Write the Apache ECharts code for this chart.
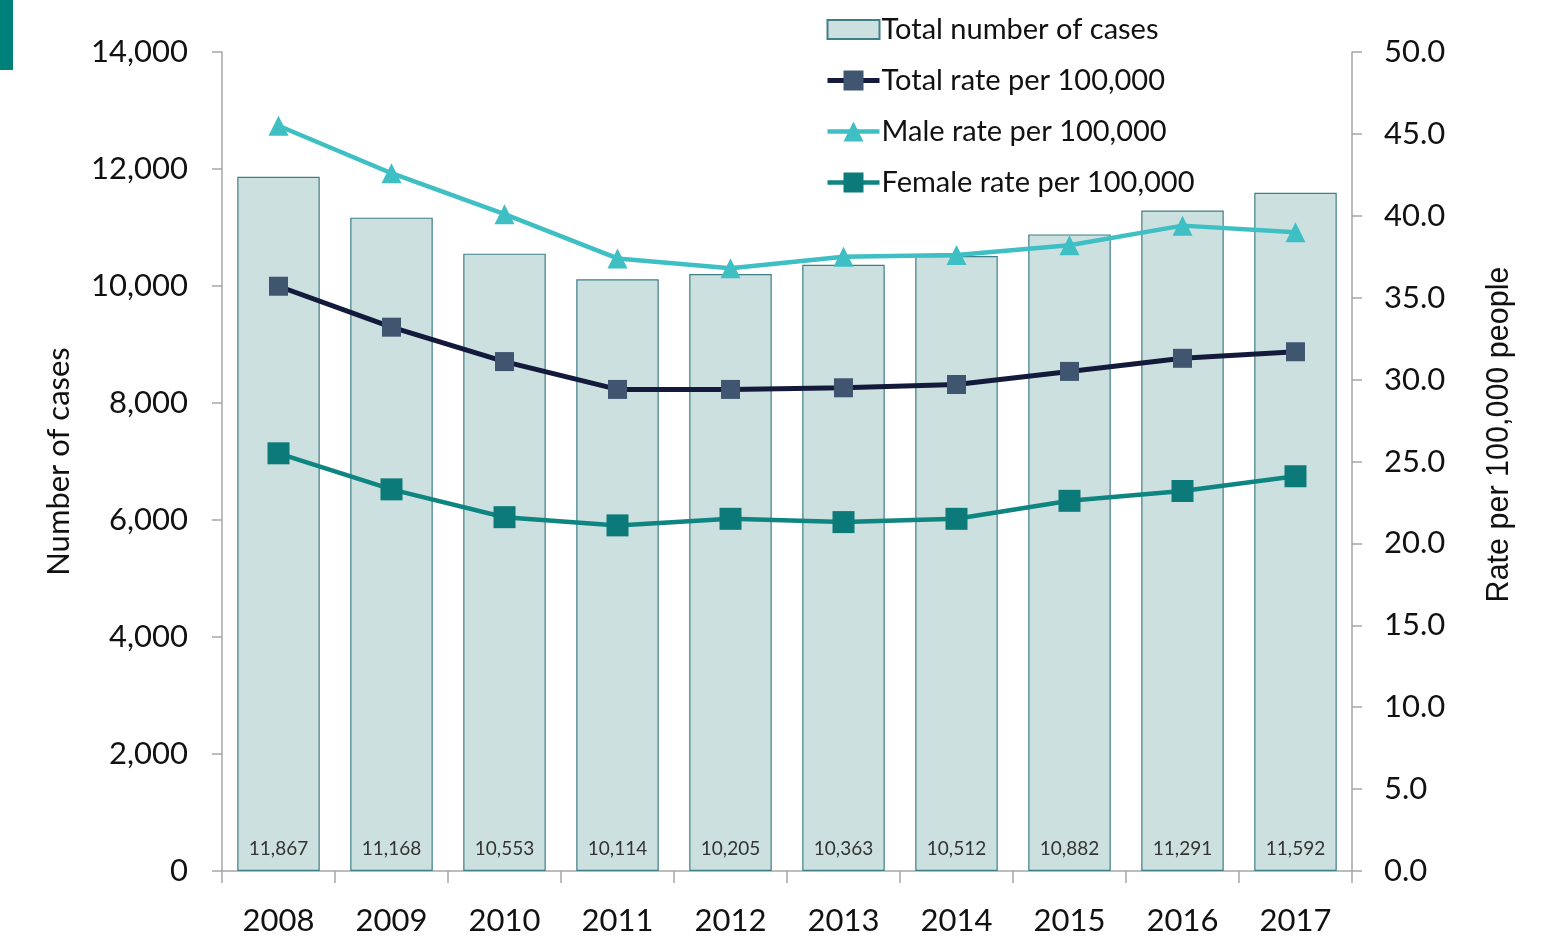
<!DOCTYPE html>
<html>
<head>
<meta charset="utf-8">
<script src="https://cdn.jsdelivr.net/npm/echarts@6/dist/echarts.min.js"></script>
<style>
html,body{margin:0;padding:0;background:#fff;}
#chart{width:1562px;height:946px;}
</style>
</head>
<body>
<div id="chart"></div>
<script>
const years = ['2008','2009','2010','2011','2012','2013','2014','2015','2016','2017'];
const totalCases = [11867, 11168, 10553, 10114, 10205, 10363, 10512, 10882, 11291, 11592];
const totalRate = [35.7, 33.2, 31.1, 29.4, 29.4, 29.5, 29.7, 30.5, 31.3, 31.7];
const maleRate = [45.5, 42.6, 40.1, 37.4, 36.8, 37.5, 37.6, 38.2, 39.4, 39.0];
const femaleRate = [25.5, 23.3, 21.6, 21.1, 21.5, 21.3, 21.5, 22.6, 23.2, 24.1];
const leftTicks = {min: 0, max: 14000, interval: 2000};
const rightTicks = {min: 0, max: 50, interval: 5};

const chart = echarts.init(document.getElementById('chart'));
const font = 'Lato, "Open Sans", sans-serif';
const axisGrey = '#a6a6a6';

chart.setOption({
  backgroundColor: '#ffffff',
  animation: false,
  graphic: [{
    type: 'rect', left: 0, top: 0,
    shape: {width: 13, height: 70},
    style: {fill: '#00807a'}
  }],
  legend: {
    orient: 'vertical',
    left: 820, top: 10,
    itemWidth: 52, itemHeight: 25,
    itemGap: 22,
    textStyle: {fontFamily: font, fontSize: 29, color: '#111', padding: [0,0,0,-3]},
    data: [
      {name: 'Total number of cases', icon: 'path://M0,0 M52,25 M0,3 L52,3 L52,22 L0,22 Z'},
      {name: 'Total rate per 100,000', lineStyle: {width: 5}},
      {name: 'Male rate per 100,000', lineStyle: {width: 4.5}},
      {name: 'Female rate per 100,000', lineStyle: {width: 4.5}}
    ]
  },
  grid: {left: 222, right: 210, top: 52, bottom: 75, containLabel: false},
  xAxis: {
    type: 'category',
    data: years,
    axisLine: {lineStyle: {color: axisGrey, width: 1.5}},
    axisTick: {show: true, alignWithLabel: false, length: 12, lineStyle: {color: axisGrey, width: 1.5}},
    axisLabel: {fontFamily: font, fontSize: 31, color: '#111', margin: 34}
  },
  yAxis: [{
    type: 'value',
    min: leftTicks.min, max: leftTicks.max, interval: leftTicks.interval,
    name: 'Number of cases',
    nameLocation: 'middle',
    nameGap: 148,
    nameTextStyle: {fontFamily: font, fontSize: 31, color: '#111'},
    axisLine: {show: true, lineStyle: {color: axisGrey, width: 1.5}},
    axisTick: {show: true, length: 10, lineStyle: {color: axisGrey, width: 1.5}},
    splitLine: {show: false},
    axisLabel: {fontFamily: font, fontSize: 31, color: '#111', margin: 34,
      formatter: v => v.toLocaleString('en-US')}
  }, {
    type: 'value',
    min: rightTicks.min, max: rightTicks.max, interval: rightTicks.interval,
    name: 'Rate per 100,000 people',
    nameLocation: 'middle',
    nameGap: 132,
    nameTextStyle: {fontFamily: '"Liberation Sans", Arial, sans-serif', fontSize: 30.5, color: '#111',
      padding: [0, 0, 0, 54]},
    axisLine: {show: true, lineStyle: {color: axisGrey, width: 1.5}},
    axisTick: {show: true, length: 10, lineStyle: {color: axisGrey, width: 1.5}},
    splitLine: {show: false},
    axisLabel: {fontFamily: font, fontSize: 31, color: '#111', margin: 32,
      formatter: v => v.toFixed(1)}
  }],
  series: [{
    name: 'Total number of cases',
    type: 'bar',
    yAxisIndex: 0,
    data: totalCases,
    barCategoryGap: '27%',
    itemStyle: {color: '#cde0e0', borderColor: '#3f7f87', borderWidth: 1.2},
    label: {show: true, position: 'insideBottom', distance: 13,
      fontFamily: font, fontSize: 19, color: '#333',
      formatter: p => p.value.toLocaleString('en-US')}
  }, {
    name: 'Total rate per 100,000',
    type: 'line',
    yAxisIndex: 1,
    data: totalRate,
    symbol: 'rect', symbolSize: 19,
    lineStyle: {color: '#141a3c', width: 5},
    itemStyle: {color: '#3f5570'}
  }, {
    name: 'Male rate per 100,000',
    type: 'line',
    yAxisIndex: 1,
    data: maleRate,
    symbol: 'triangle', symbolSize: 20,
    lineStyle: {color: '#3ebfc4', width: 4.5},
    itemStyle: {color: '#3ebfc4'}
  }, {
    name: 'Female rate per 100,000',
    type: 'line',
    yAxisIndex: 1,
    data: femaleRate,
    symbol: 'rect', symbolSize: 22,
    lineStyle: {color: '#0e8580', width: 4.5},
    itemStyle: {color: '#0b7a78'}
  }]
});
</script>
</body>
</html>
